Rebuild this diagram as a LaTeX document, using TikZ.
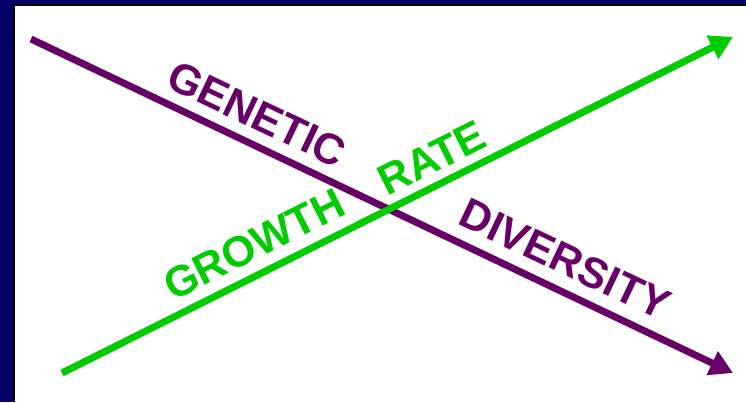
\documentclass[tikz,border=0pt]{standalone}
\usepackage{fontspec}
\setmainfont{Liberation Sans}
\usetikzlibrary{arrows.meta}
\definecolor{navy}{HTML}{000066}
\definecolor{purp}{HTML}{660066}
\definecolor{grn}{HTML}{00CC00}
\tikzset{
  arrowline/.style={line width=7pt, -{Triangle[length=23pt,width=25pt]}},
  lbl/.style={font=\fontsize{43}{43}\selectfont\bfseries, inner sep=0pt}
}
\begin{document}
\begin{tikzpicture}[x=1pt,y=-1pt]
\useasboundingbox (0,0) rectangle (746,402);
\fill[navy] (0,0) rectangle (746,402);
\fill[black] (13,3.5) rectangle (746,402);
\fill[white] (15,5.5) rectangle (746,402);
\coordinate (p1) at (31,39);
\coordinate (p2) at (733,373);
\coordinate (g1) at (62,373);
\coordinate (g2) at (733,37);
\draw[arrowline, purp] (p1) -- (p2);
\draw[arrowline, grn] (g1) -- (g2);
\node[lbl, text=purp, rotate=-25.4] (genetic) at (257,114) {GENETIC};
\node[lbl, text=purp, rotate=-25.4] (diversity) at (565,259) {DIVERSITY};
\node[lbl, text=grn, rotate=26.6] (growth) at (254,244) {GROWTH};
\node[lbl, text=grn, rotate=26.6] (rate) at (432,158) {RATE};
\end{tikzpicture}
\end{document}
